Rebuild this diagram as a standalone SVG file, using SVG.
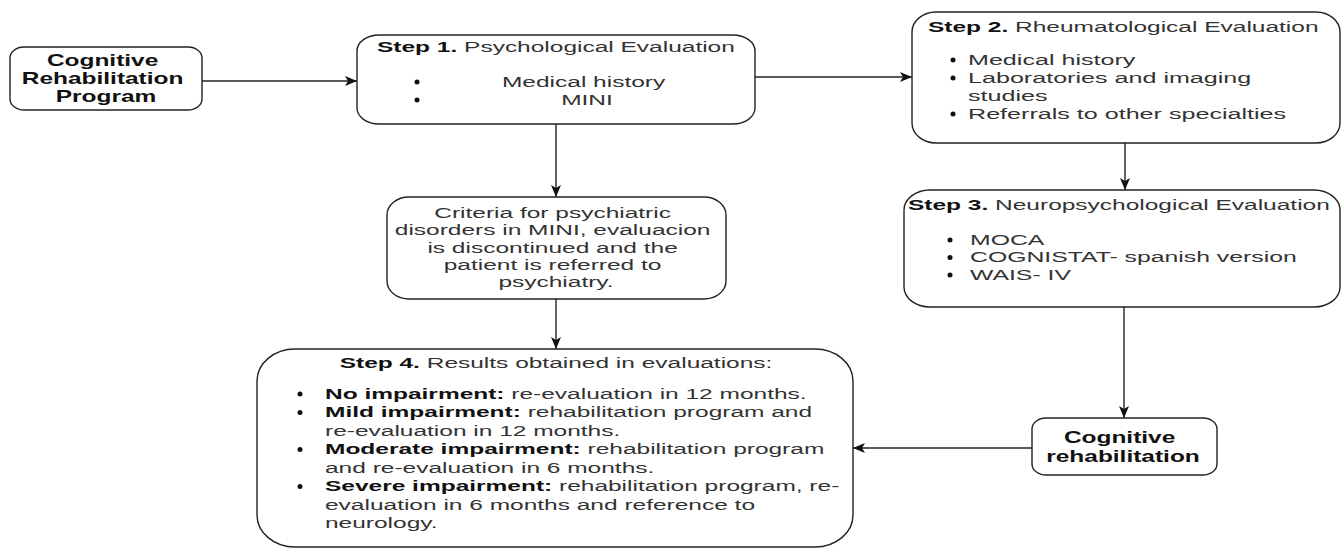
<svg xmlns="http://www.w3.org/2000/svg" width="1342" height="548" viewBox="0 0 1342 548">
  <defs>
    <marker id="arrow" markerUnits="userSpaceOnUse" markerWidth="12" markerHeight="10" viewBox="0 0 12 10" refX="12" refY="5" orient="auto">
      <path d="M0,0 L12,5 L0,10 L3,5 Z" fill="#111"/>
    </marker>
    <style>
      .box { fill: #fff; stroke: #222; stroke-width: 1.4; }
      .wire { fill: none; stroke: #222; stroke-width: 1.4; marker-end: url(#arrow); }
      .wire.soft { stroke: #555; stroke-width: 1.8; }
      text { font-family: "Liberation Sans", Arial, sans-serif; font-size: 15.5px; fill: #333; }
      .b { font-weight: bold; fill: #111; }
      .node { font-size: 16px; font-weight: bold; fill: #111; }
      .dot { fill: #111; }
    </style>
  </defs>

  <rect width="1342" height="548" fill="#fff"/>

  <!-- connectors -->
  <g id="connectors">
    <path class="wire" d="M202,81 H357"/>
    <path class="wire" d="M755,77 H912"/>
    <path class="wire" d="M556,124 V197"/>
    <path class="wire soft" d="M556,299 V349"/>
    <path class="wire" d="M1125,143 V190"/>
    <path class="wire soft" d="M1124,307 V418"/>
    <path class="wire" d="M1032,448 H853"/>
  </g>

  <!-- entry node -->
  <g id="program">
    <rect class="box" x="10" y="47" width="192" height="63" rx="14" ry="11"/>
    <text class="node" text-anchor="middle" transform="translate(106,66) scale(1.53,1)">
      <tspan x="0" y="0">Cognitive</tspan>
      <tspan x="0" y="18">Rehabilitation</tspan>
      <tspan x="0" y="36">Program</tspan>
    </text>
  </g>

  <!-- step 1 -->
  <g id="step1">
    <rect class="box" x="357" y="35" width="398" height="89" rx="22" ry="16"/>
    <text transform="translate(377,52) scale(1.58,1)"><tspan class="b">Step 1.</tspan> Psychological Evaluation</text>
    <circle class="dot" cx="417" cy="82" r="2.5"/>
    <circle class="dot" cx="417" cy="100" r="2.5"/>
    <text text-anchor="middle" transform="translate(587,87) scale(1.58,1)">
      <tspan x="0" y="0">Medical history</tspan>
      <tspan x="0" y="18">MINI</tspan>
    </text>
  </g>

  <!-- step 2 -->
  <g id="step2">
    <rect class="box" x="912" y="12" width="428" height="131" rx="24" ry="20"/>
    <text transform="translate(928,32) scale(1.58,1)"><tspan class="b">Step 2.</tspan> Rheumatological Evaluation</text>
    <circle class="dot" cx="953" cy="60" r="2.5"/>
    <circle class="dot" cx="953" cy="78" r="2.5"/>
    <circle class="dot" cx="953" cy="114" r="2.5"/>
    <text transform="translate(968,65) scale(1.62,1)">
      <tspan x="0" y="0">Medical history</tspan>
      <tspan x="0" y="18">Laboratories and imaging</tspan>
      <tspan x="0" y="36">studies</tspan>
      <tspan x="0" y="54">Referrals to other specialties</tspan>
    </text>
  </g>

  <!-- psychiatric referral -->
  <g id="referral">
    <rect class="box" x="387" y="197" width="339" height="102" rx="22" ry="18"/>
    <text text-anchor="middle" transform="translate(556,218) scale(1.58,1)">
      <tspan x="0" y="0">Criteria for psychiatric</tspan>
      <tspan x="0" y="17.3">disorders in MINI, evaluacion</tspan>
      <tspan x="0" y="34.6">is discontinued and the</tspan>
      <tspan x="0" y="51.9">patient is referred to</tspan>
      <tspan x="0" y="69.2">psychiatry.</tspan>
    </text>
  </g>

  <!-- step 3 -->
  <g id="step3">
    <rect class="box" x="904" y="190" width="436" height="117" rx="26" ry="20"/>
    <text transform="translate(908,210) scale(1.58,1)"><tspan class="b">Step 3.</tspan> Neuropsychological Evaluation</text>
    <circle class="dot" cx="950" cy="240" r="2.5"/>
    <circle class="dot" cx="950" cy="257.5" r="2.5"/>
    <circle class="dot" cx="950" cy="275" r="2.5"/>
    <text transform="translate(970,245) scale(1.6,1)">
      <tspan x="0" y="0">MOCA</tspan>
      <tspan x="0" y="17.5">COGNISTAT- spanish version</tspan>
      <tspan x="0" y="35">WAIS- IV</tspan>
    </text>
  </g>

  <!-- rehabilitation node -->
  <g id="rehabilitation">
    <rect class="box" x="1032" y="418" width="185" height="57" rx="14" ry="11"/>
    <text class="node" text-anchor="middle" transform="translate(1123,443) scale(1.53,1)">
      <tspan x="0" y="0">Cognitive</tspan>
      <tspan x="0" y="19">rehabilitation</tspan>
    </text>
  </g>

  <!-- step 4 -->
  <g id="step4">
    <rect class="box" x="257" y="349" width="596" height="198" rx="38" ry="32"/>
    <text text-anchor="middle" transform="translate(556,368) scale(1.58,1)"><tspan class="b">Step 4.</tspan> Results obtained in evaluations:</text>
    <circle class="dot" cx="300" cy="394" r="2.5"/>
    <circle class="dot" cx="300" cy="412.5" r="2.5"/>
    <circle class="dot" cx="300" cy="449.5" r="2.5"/>
    <circle class="dot" cx="300" cy="486.5" r="2.5"/>
    <text transform="translate(325,399) scale(1.58,1)">
      <tspan x="0" y="0"><tspan class="b">No impairment:</tspan> re-evaluation in 12 months.</tspan>
      <tspan x="0" y="18.5"><tspan class="b">Mild impairment:</tspan> rehabilitation program and</tspan>
      <tspan x="0" y="37">re-evaluation in 12 months.</tspan>
      <tspan x="0" y="55.5"><tspan class="b">Moderate impairment:</tspan> rehabilitation program</tspan>
      <tspan x="0" y="74">and re-evaluation in 6 months.</tspan>
      <tspan x="0" y="92.5"><tspan class="b">Severe impairment:</tspan> rehabilitation program, re-</tspan>
      <tspan x="0" y="111">evaluation in 6 months and reference to</tspan>
      <tspan x="0" y="129.5">neurology.</tspan>
    </text>
  </g>
</svg>
